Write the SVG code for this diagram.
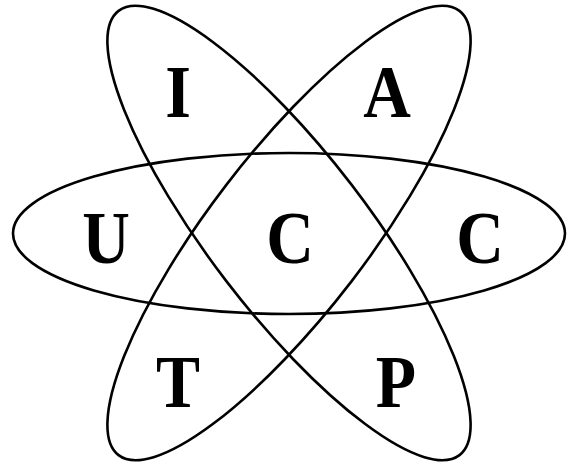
<svg xmlns="http://www.w3.org/2000/svg" width="568" height="463" viewBox="0 0 568 463">
<style>
.e{fill:none;stroke:#000;stroke-width:2.6}
.t{font-family:"Liberation Serif","Times New Roman",serif;font-weight:bold;font-size:66px;fill:#000;text-anchor:middle}
</style>
<rect width="568" height="463" fill="#fff"/>
<g id="orbits">
<ellipse class="e" cx="289" cy="233.5" rx="276" ry="80.5"/>
<ellipse class="e" cx="289" cy="233" rx="280" ry="79" transform="rotate(52.5 289 233)"/>
<ellipse class="e" cx="289" cy="233" rx="280" ry="79" transform="rotate(-52.5 289 233)"/>
</g>
<g id="letters" transform="scale(1,1.12)">
<text class="t" x="178" y="104.5">I</text>
<text class="t" x="387" y="104.5">A</text>
<text class="t" x="106" y="234.8">U</text>
<text class="t" x="290" y="234.8">C</text>
<text class="t" x="480" y="234.8">C</text>
<text class="t" x="178" y="363.4">T</text>
<text class="t" x="396" y="363.4">P</text>
</g>
</svg>
